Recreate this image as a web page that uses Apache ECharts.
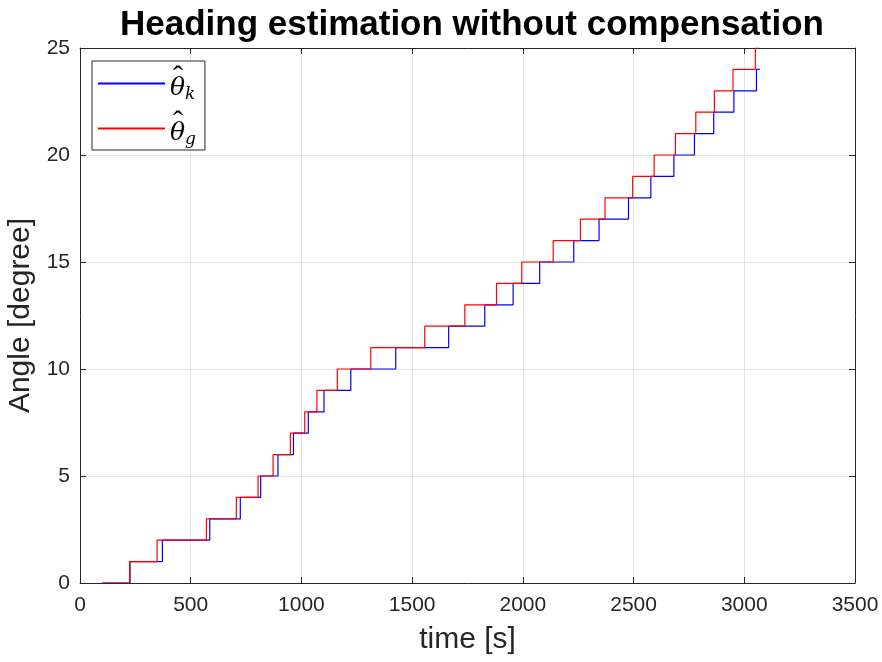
<!DOCTYPE html>
<html>
<head>
<meta charset="utf-8">
<script src="https://cdn.jsdelivr.net/npm/echarts@6/dist/echarts.min.js"></script>
<style>
  html, body { margin: 0; padding: 0; background: #fff; }
  #chart { width: 882px; height: 662px; }
</style>
</head>
<body>
<div id="chart"></div>
<script>
// === Datos =====================================================================
// instante [s] en que cada estimación pasa al siguiente grado
const kTimes  = [100, 226, 372, 586, 724, 816, 894, 964, 1031, 1102, 1223, 1426, 1665,
                 1828, 1956, 2076, 2230, 2344, 2477, 2578, 2682, 2775, 2862, 2953, 3055];
const kLevels = [0, 1, 2, 3, 4, 5, 6, 7, 8, 9, 10, 11, 12, 13, 14, 15, 16, 17, 18, 19, 20, 21, 22, 23, 24];
const kEnd    = 3070;

const gTimes  = [100, 224, 348, 571, 706, 804, 872, 950, 1015, 1070, 1162, 1313, 1557,
                 1738, 1881, 1995, 2137, 2260, 2371, 2496, 2593, 2689, 2781, 2865, 2949, 3050];
const gLevels = [0, 1, 2, 3, 4, 5, 6, 7, 8, 9, 10, 11, 12, 13, 14, 15, 16, 17, 18, 19, 20, 21, 22, 23, 24, 25];
const gEnd    = 3068;

// === Helpers ===================================================================
const font = 'Liberation Sans, Arial, Helvetica, sans-serif';
const ink = '#262626', gridC = '#e3e3e3', frame = '#262626';

function stairs(times, levels, tEnd) {
  const pts = times.map((t, i) => [t, levels[i]]);
  pts.push([tEnd, levels[levels.length - 1]]);
  return pts;
}

const serif = 'DejaVu Serif, Liberation Serif, serif';
const legendRich = {
  hat: { fontFamily: 'Liberation Serif, serif', fontSize: 30, color: '#000', lineHeight: 10, padding: [0, 0, -10, 3] },
  th:  { fontFamily: serif, fontStyle: 'italic', fontSize: 25, color: '#000', lineHeight: 21 },
  sub: { fontFamily: serif, fontStyle: 'italic', fontSize: 17, color: '#000', lineHeight: 9, padding: [12, 0, 0, 0] }
};

const axisBase = {
  type: 'value', min: 0,
  axisLine: { show: true, onZero: false, lineStyle: { color: frame, width: 1 } },
  axisTick: { show: true, inside: true, length: 6, lineStyle: { color: frame } },
  splitLine: { show: false }
};
const tickLabel = { fontFamily: font, fontSize: 21, color: ink, margin: 10, formatter: v => String(v) };

const option = {
  animation: false,
  backgroundColor: '#fff',
  title: {
    text: 'Heading estimation without compensation',
    left: 467, top: 3, textAlign: 'center',
    textStyle: { fontFamily: font, fontWeight: 'bold', fontSize: 35, color: '#000' }
  },
  grid: { left: 80, right: 27, top: 48, bottom: 79, outerBoundsMode: 'none' },
  legend: {
    orient: 'vertical', left: 92, top: 61,
    backgroundColor: '#fff',
    borderColor: frame, borderWidth: 1, borderRadius: 0,
    padding: [2, 9, 2, 6],
    itemGap: 5,
    itemWidth: 67, itemHeight: 2,
    icon: 'rect',
    data: [
      { name: 'k', itemStyle: { color: '#0000ff' } },
      { name: 'g', itemStyle: { color: '#ff0000' } }
    ],
    formatter: n => `{hat|ˆ}\n{th|θ}{sub|${n}}`,
    textStyle: { rich: legendRich }
  },
  xAxis: [
    { ...axisBase, max: 3500, interval: 500, position: 'bottom',
      name: 'time [s]', nameLocation: 'middle', nameGap: 42,
      nameTextStyle: { fontFamily: font, fontSize: 30, color: ink },
      axisLabel: { ...tickLabel, margin: 12 },
      splitLine: { show: true, lineStyle: { color: gridC, width: 1 } } },
    { ...axisBase, max: 3500, interval: 500, position: 'top', axisLabel: { show: false } }
  ],
  yAxis: [
    { ...axisBase, max: 25, interval: 5, position: 'left',
      name: 'Angle [degree]', nameLocation: 'middle', nameGap: 43,
      nameTextStyle: { fontFamily: font, fontSize: 30, color: ink },
      axisLabel: tickLabel,
      splitLine: { show: true, lineStyle: { color: gridC, width: 1 } } },
    { ...axisBase, max: 25, interval: 5, position: 'right', axisLabel: { show: false } }
  ],
  series: [
    { name: 'k', type: 'line', step: 'end', showSymbol: false, symbol: 'none',
      lineStyle: { color: '#0000ff', width: 1.2 }, itemStyle: { color: '#0000ff' },
      data: stairs(kTimes, kLevels, kEnd) },
    { name: 'g', type: 'line', step: 'end', showSymbol: false, symbol: 'none',
      lineStyle: { color: '#ff0000', width: 1.2 }, itemStyle: { color: '#ff0000' },
      data: stairs(gTimes, gLevels, gEnd) }
  ]
};

const chart = echarts.init(document.getElementById('chart'));
chart.setOption(option);
</script>
</body>
</html>
